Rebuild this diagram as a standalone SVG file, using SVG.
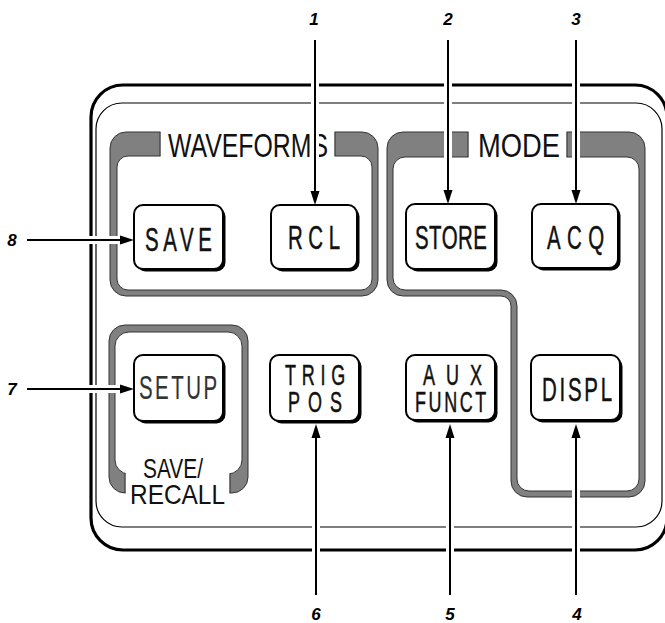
<svg xmlns="http://www.w3.org/2000/svg" width="665" height="623" viewBox="0 0 665 623">
<style>
.boxo{fill:none;stroke:#000;stroke-width:3.2}
.boxi{fill:none;stroke:#000;stroke-width:1.2}
.band{fill:#808080;stroke:#333;stroke-width:1;fill-rule:evenodd}
.gap{fill:#fff}
.gapedge{stroke:#333;stroke-width:1}
.shadow{fill:#000}
.face{fill:#fff;stroke:#000;stroke-width:2}
.lbl{font-family:"Liberation Sans",Arial,sans-serif;font-size:33px;fill:#111;stroke:#111;stroke-width:0.5}
.lbl2{font-family:"Liberation Sans",Arial,sans-serif;font-size:29px;fill:#111;stroke:#111;stroke-width:0.5}
.hdr{font-family:"Liberation Sans",Arial,sans-serif;fill:#111}
.num{font-family:"Liberation Sans",Arial,sans-serif;font-weight:bold;font-style:italic;font-size:17px;text-anchor:middle;fill:#000}
.halo{stroke:#fff;stroke-width:8;fill:none}
.ln{stroke:#000;stroke-width:2;fill:none;marker-end:url(#ah)}
</style>
<defs>
<marker id="ah" markerUnits="userSpaceOnUse" markerWidth="14" markerHeight="10" refX="6" refY="5" orient="auto">
<path d="M0,0.5 L14,5 L0,9.5 Z" fill="#000"/>
</marker>
</defs>
<rect width="665" height="623" fill="#fff"/>

<g id="panel">
<rect class="boxo" x="91" y="85" width="576" height="465" rx="32"/>
<rect class="boxi" x="96" y="103" width="566" height="424" rx="26"/>
</g>

<g id="waveforms-frame">
<path class="band" d="M126,132 H362 A16,16 0 0 1 378,148 V280 A16,16 0 0 1 362,296 H126 A16,16 0 0 1 110,280 V148 A16,16 0 0 1 126,132 Z M128,156 H361 A11,11 0 0 1 372,167 V279 A11,11 0 0 1 361,290 H128 A11,11 0 0 1 117,279 V167 A11,11 0 0 1 128,156 Z"/>
<rect class="gap" x="160.5" y="130" width="174" height="27"/>
<line class="gapedge" x1="160" y1="132" x2="160" y2="156"/>
<line class="gapedge" x1="335" y1="132" x2="335" y2="156"/>
<text class="hdr" x="168" y="157" font-size="34" textLength="160" lengthAdjust="spacingAndGlyphs">WAVEFORMS</text>
</g>

<g id="mode-frame">
<path class="band" d="M403,132 H629 A16,16 0 0 1 645,148 V481 A16,16 0 0 1 629,497 H527 A16,16 0 0 1 511,481 V306 A10,10 0 0 0 501,296 H403 A16,16 0 0 1 387,280 V148 A16,16 0 0 1 403,132 Z M405,157 H627 A12,12 0 0 1 639,169 V479 A12,12 0 0 1 627,491 H529 A12,12 0 0 1 517,479 V306 A16,16 0 0 0 501,290 H405 A12,12 0 0 1 393,278 V169 A12,12 0 0 1 405,157 Z"/>
<rect class="gap" x="468.5" y="130" width="98" height="28"/>
<line class="gapedge" x1="468" y1="132" x2="468" y2="157"/>
<line class="gapedge" x1="567" y1="132" x2="567" y2="157"/>
<text class="hdr" x="478" y="157" font-size="34" textLength="82" lengthAdjust="spacingAndGlyphs">MODE</text>
</g>

<g id="saverecall-frame">
<path class="band" d="M125,325 H232 A16,16 0 0 1 248,341 V477 A16,16 0 0 1 232,493 H125 A16,16 0 0 1 109,477 V341 A16,16 0 0 1 125,325 Z M129,332 H228 A14,14 0 0 1 242,346 V460 A14,14 0 0 1 228,474 H129 A14,14 0 0 1 115,460 V346 A14,14 0 0 1 129,332 Z"/>
<rect class="gap" x="125.5" y="468" width="104" height="28"/>
<line class="gapedge" x1="125" y1="473" x2="125" y2="493"/>
<line class="gapedge" x1="230" y1="474" x2="230" y2="493"/>
<text class="hdr" x="143" y="478" font-size="27" textLength="60" lengthAdjust="spacingAndGlyphs">SAVE/</text>
<text class="hdr" x="130" y="504" font-size="28" textLength="95" lengthAdjust="spacingAndGlyphs">RECALL</text>
</g>

<g id="btn-save">
<rect class="shadow" x="136.5" y="207.5" width="89" height="64" rx="9"/>
<rect class="face" x="134" y="205" width="89" height="64" rx="9"/>
<text class="lbl" transform="translate(145,251) scale(0.62,1)" x="0" y="0" textLength="108" lengthAdjust="spacing">SAVE</text>
</g>
<g id="btn-rcl">
<rect class="shadow" x="273.5" y="207.5" width="86" height="64" rx="9"/>
<rect class="face" x="271" y="205" width="86" height="64" rx="9"/>
<text class="lbl" transform="translate(288,249) scale(0.62,1)" x="0" y="0" textLength="84" lengthAdjust="spacing">RCL</text>
</g>
<g id="btn-store">
<rect class="shadow" x="408.5" y="206.5" width="89" height="65" rx="9"/>
<rect class="face" x="406" y="204" width="89" height="65" rx="9"/>
<text class="lbl" transform="translate(415,249) scale(0.62,1)" x="0" y="0" textLength="116" lengthAdjust="spacing">STORE</text>
</g>
<g id="btn-acq">
<rect class="shadow" x="534.5" y="206.5" width="86" height="64" rx="9"/>
<rect class="face" x="532" y="204" width="86" height="64" rx="9"/>
<text class="lbl" transform="translate(547,249) scale(0.62,1)" x="0" y="0" textLength="92" lengthAdjust="spacing">ACQ</text>
</g>
<g id="btn-setup">
<rect class="shadow" x="136.5" y="357.5" width="89" height="66" rx="9"/>
<rect class="face" x="134" y="355" width="89" height="66" rx="9"/>
<text class="lbl" transform="translate(139,399) scale(0.62,1)" x="0" y="0" textLength="126" lengthAdjust="spacing" style="fill:#333;stroke:#333;stroke-width:0.2">SETUP</text>
</g>
<g id="btn-trigpos">
<rect class="shadow" x="272.5" y="357.5" width="89" height="66" rx="9"/>
<rect class="face" x="270" y="355" width="89" height="66" rx="9"/>
<text class="lbl2" transform="translate(285,385) scale(0.62,1)" x="0" y="0" textLength="97" lengthAdjust="spacing">TRIG</text>
<text class="lbl2" transform="translate(288,412) scale(0.62,1)" x="0" y="0" textLength="87" lengthAdjust="spacing">POS</text>
</g>
<g id="btn-auxfunct">
<rect class="shadow" x="408.5" y="357.5" width="89" height="65" rx="9"/>
<rect class="face" x="406" y="355" width="89" height="65" rx="9"/>
<text class="lbl2" transform="translate(423,385) scale(0.62,1)" x="0" y="0" textLength="95" lengthAdjust="spacing">AUX</text>
<text class="lbl2" transform="translate(415,412) scale(0.62,1)" x="0" y="0" textLength="115" lengthAdjust="spacing">FUNCT</text>
</g>
<g id="btn-displ">
<rect class="shadow" x="533.5" y="357.5" width="89" height="65" rx="9"/>
<rect class="face" x="531" y="355" width="89" height="65" rx="9"/>
<text class="lbl" transform="translate(542,401) scale(0.62,1)" x="0" y="0" textLength="113" lengthAdjust="spacing">DISPL</text>
</g>

<g id="connectors">
<line class="halo" x1="315" y1="40" x2="315" y2="191"/>
<line class="halo" x1="448" y1="40" x2="448" y2="190"/>
<line class="halo" x1="576" y1="40" x2="576" y2="190"/>
<line class="halo" x1="576" y1="595" x2="576" y2="438"/>
<line class="halo" x1="450" y1="595" x2="450" y2="438"/>
<line class="halo" x1="316" y1="595" x2="316" y2="438"/>
<line class="halo" x1="27" y1="389" x2="120" y2="389"/>
<line class="halo" x1="27" y1="240" x2="120" y2="240"/>
<line class="ln" x1="315" y1="40" x2="315" y2="197"/>
<line class="ln" x1="448" y1="40" x2="448" y2="196"/>
<line class="ln" x1="576" y1="40" x2="576" y2="196"/>
<line class="ln" x1="576" y1="595" x2="576" y2="432"/>
<line class="ln" x1="450" y1="595" x2="450" y2="432"/>
<line class="ln" x1="316" y1="595" x2="316" y2="432"/>
<line class="ln" x1="27" y1="389" x2="126" y2="389"/>
<line class="ln" x1="27" y1="240" x2="126" y2="240"/>
</g>

<g id="labels">
<text class="num" x="314" y="25">1</text>
<text class="num" x="448" y="25">2</text>
<text class="num" x="576" y="25">3</text>
<text class="num" x="577" y="620">4</text>
<text class="num" x="450" y="620">5</text>
<text class="num" x="316" y="620">6</text>
<text class="num" x="12" y="395">7</text>
<text class="num" x="12" y="246">8</text>
</g>
</svg>
